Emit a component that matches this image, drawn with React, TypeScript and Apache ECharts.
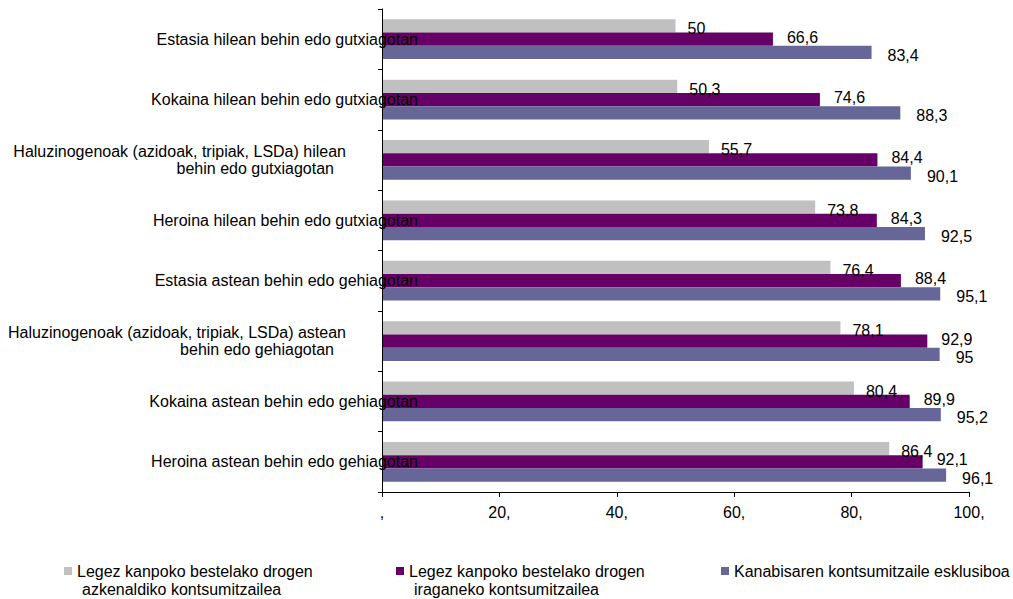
import React, { useEffect, useRef } from 'react';
import * as echarts from 'echarts';

const categories = [
  'Estasia hilean behin edo gutxiagotan',
  'Kokaina hilean behin edo gutxiagotan',
  'Haluzinogenoak (azidoak, tripiak, LSDa) hilean\nbehin edo gutxiagotan',
  'Heroina hilean behin edo gutxiagotan',
  'Estasia astean behin edo gehiagotan',
  'Haluzinogenoak (azidoak, tripiak, LSDa) astean\nbehin edo gehiagotan',
  'Kokaina astean behin edo gehiagotan',
  'Heroina astean behin edo gehiagotan',
];

const seriesNames = [
  'Legez kanpoko bestelako drogen azkenaldiko kontsumitzailea',
  'Legez kanpoko bestelako drogen iraganeko kontsumitzailea',
  'Kanabisaren kontsumitzaile esklusiboa',
];

const legendLines: Record<string, string[]> = {
  [seriesNames[0]]: ['Legez kanpoko bestelako drogen', 'azkenaldiko kontsumitzailea'],
  [seriesNames[1]]: ['Legez kanpoko bestelako drogen', 'iraganeko kontsumitzailea'],
  [seriesNames[2]]: ['Kanabisaren kontsumitzaile esklusiboa'],
};

const recentUsers = [50, 50.3, 55.7, 73.8, 76.4, 78.1, 80.4, 86.4];
const pastUsers = [66.6, 74.6, 84.4, 84.3, 88.4, 92.9, 89.9, 92.1];
const cannabisOnly = [83.4, 88.3, 90.1, 92.5, 95.1, 95, 95.2, 96.1];

const colors = ['#C0C0C0', '#660066', '#666699'];

const FONT = '"Liberation Sans", Arial, sans-serif';

const fmtNum = (v: number) => String(v).replace('.', ',');

export default function App() {
  const ref = useRef<HTMLDivElement>(null);

  useEffect(() => {
    if (!ref.current) return;
    const chart = echarts.init(ref.current, undefined, { renderer: 'svg' });

    const labelFor = (dist: number, dy: number) => ({
      show: true,
      position: 'right' as const,
      distance: dist,
      offset: [0, dy],
      color: '#000',
      fontSize: 16,
      fontFamily: FONT,
      formatter: (p: any) => fmtNum(p.value),
    });

    const seriesData = [recentUsers, pastUsers, cannabisOnly];
    const labelCfg = [labelFor(12, 3), labelFor(14, -2), labelFor(16, 3)];

    const legendText = {
      color: '#000',
      fontSize: 16,
      fontFamily: FONT,
      lineHeight: 18,
      rich: {
        a: { fontSize: 16, fontFamily: FONT, lineHeight: 18, color: '#000' },
        b: { fontSize: 16, fontFamily: FONT, lineHeight: 18, color: '#000', padding: [0, 0, 0, 5] },
      },
    };
    const legendFormatter = (name: string) => {
      const lines = legendLines[name];
      if (lines.length === 1) return `{a|${lines[0]}}`;
      return `{a|${lines[0]}}\n{b|${lines[1]}}`;
    };
    const tallIcon = 'path://M0,0L8,0L8,8L0,8Z M0,25.99L8,25.99L8,26L0,26Z';

    chart.setOption({
      animation: false,
      backgroundColor: '#fff',
      textStyle: { fontFamily: FONT },
      grid: { left: 382, right: 44, top: 9, bottom: 107, containLabel: false },
      xAxis: {
        type: 'value',
        min: 0,
        max: 100,
        interval: 20,
        axisLine: { show: true, lineStyle: { color: '#000', width: 1 } },
        axisTick: { show: true, length: 5, lineStyle: { color: '#000' } },
        splitLine: { show: false },
        axisLabel: {
          color: '#000',
          fontSize: 16,
          fontFamily: FONT,
          margin: 12,
          formatter: (v: number) => (v === 0 ? ',' : `${v},`),
        },
      },
      yAxis: {
        type: 'category',
        inverse: true,
        data: categories,
        z: 10,
        axisLine: { show: true, lineStyle: { color: '#000', width: 1 } },
        axisTick: { show: true, length: 4, lineStyle: { color: '#000' } },
        axisLabel: {
          color: '#000',
          fontSize: 16,
          fontFamily: FONT,
          margin: -36,
          formatter: (v: string) => {
            if (v.includes('\n')) {
              const [l1, l2] = v.split('\n');
              return `{l1|${l1}}\n{l2|${l2}}`;
            }
            return `{s|${v}}`;
          },
          rich: {
            s: { fontSize: 16, fontFamily: FONT, color: '#000' },
            l1: { fontSize: 16, fontFamily: FONT, color: '#000', lineHeight: 17, padding: [0, 72, 0, 0] },
            l2: { fontSize: 16, fontFamily: FONT, color: '#000', lineHeight: 17, padding: [0, 84, 0, 0] },
          },
        },
      },
      legend: [
        {
          data: [seriesNames[0]], left: 64, top: 562, padding: 0,
          icon: tallIcon, itemWidth: 8, itemHeight: 26,
          formatter: legendFormatter, textStyle: legendText, selectedMode: false,
        },
        {
          data: [seriesNames[1]], left: 396, top: 562, padding: 0,
          icon: tallIcon, itemWidth: 8, itemHeight: 26,
          formatter: legendFormatter, textStyle: legendText, selectedMode: false,
        },
        {
          data: [seriesNames[2]], left: 721, top: 562, padding: 0,
          icon: 'rect', itemWidth: 8, itemHeight: 8,
          formatter: legendFormatter, textStyle: legendText, selectedMode: false,
        },
      ],
      series: seriesNames.map((name, i) => ({
        name,
        type: 'bar',
        data: seriesData[i],
        barGap: '0%',
        barCategoryGap: '34%',
        itemStyle: { color: colors[i] },
        label: labelCfg[i],
      })),
    });

    return () => chart.dispose();
  }, []);

  return (
    <div
      ref={ref}
      style={{ position: 'fixed', left: 0, top: 0, width: 1013, height: 599, background: '#fff' }}
    />
  );
}
